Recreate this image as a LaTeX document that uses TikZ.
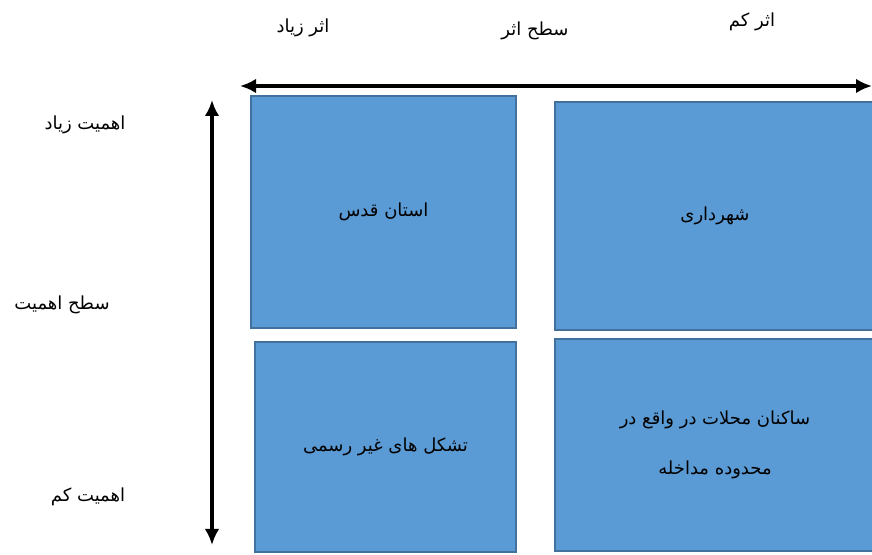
\documentclass[tikz,border=0pt]{standalone}
\usepackage{fontspec}
\usetikzlibrary{arrows.meta}
\newfontfamily\farsifont[Script=Arabic]{DejaVu Sans}
\TeXXeTstate=1
\definecolor{boxfill}{HTML}{5B9BD5}
\definecolor{boxline}{HTML}{41719C}

\begin{document}
\begin{tikzpicture}[x=0.75pt, y=-0.75pt, >={Latex[length=12pt, width=11pt]},
    font=\farsifont\fontsize{13.5}{16}\selectfont,
    quad/.style={draw=boxline, fill=boxfill, line width=1.4pt, align=center, inner sep=0pt},
    axis/.style={line width=2.7pt, draw=black}]

\clip (0, 0) rectangle (872, 555);

\node (strong)  at (383.5, 212) [quad, minimum width=198.75pt, minimum height=174pt] {\beginR استان قدس\endR};
\node (weak)    at (715, 216)   [quad, minimum width=240pt, minimum height=171pt]    {\beginR شهرداری\endR};
\node (informal) at (385.5, 447) [quad, minimum width=195.75pt, minimum height=157.5pt] {\beginR تشکل های غیر رسمی\endR};
\node (residents) at (715, 445) [quad, minimum width=240pt, minimum height=159pt] {\beginR ساکنان محلات در واقع در\endR\\[21pt]\beginR محدوده مداخله\endR};

\node (effecthigh) at (303, 28) {\beginR اثر زیاد\endR};
\node (effectlevel) at (535, 31) {\beginR سطح اثر\endR};
\node (effectlow) at (752, 22) {\beginR اثر کم\endR};

\node (imphigh)  at (85, 125) {\beginR اهمیت زیاد\endR};
\node (implevel) at (62, 305) {\beginR سطح اهمیت\endR};
\node (implow)   at (88, 497) {\beginR اهمیت کم\endR};

\coordinate (hleft)   at (240, 86);
\coordinate (hright)  at (872, 86);
\coordinate (vtop)    at (212, 100);
\coordinate (vbottom) at (212, 545);

\draw[axis, <->] (hleft) -- (hright);
\draw[axis, <->] (vtop) -- (vbottom);

\end{tikzpicture}
\end{document}
